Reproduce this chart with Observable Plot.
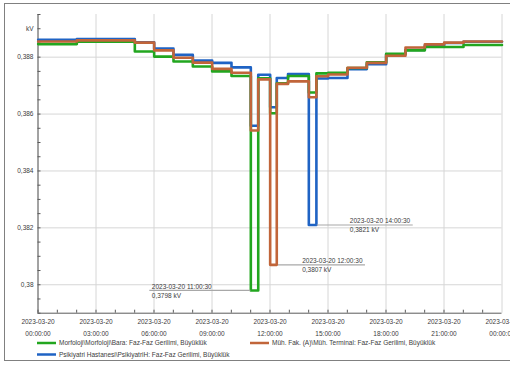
<!DOCTYPE html>
<html><head><meta charset="utf-8">
<script src="https://cdn.jsdelivr.net/npm/d3@7"></script>
<script src="https://cdn.jsdelivr.net/npm/@observablehq/plot@0.6"></script>
<style>
html,body{margin:0;padding:0;background:#fff;overflow:hidden;}
#chart{position:relative;width:510px;height:365px;}
svg{overflow:visible;}
</style></head><body><div id="chart"></div>
<script>
// ---- data ----
const times = [
  "2023-03-20T00:00:30Z","2023-03-20T02:00:30Z","2023-03-20T05:00:30Z","2023-03-20T06:00:30Z",
  "2023-03-20T07:00:30Z","2023-03-20T08:00:30Z","2023-03-20T09:00:30Z","2023-03-20T10:00:30Z",
  "2023-03-20T11:00:30Z","2023-03-20T11:23:30Z","2023-03-20T12:00:30Z","2023-03-20T12:21:00Z",
  "2023-03-20T12:56:00Z","2023-03-20T14:00:30Z","2023-03-20T14:24:00Z","2023-03-20T15:00:30Z",
  "2023-03-20T16:00:30Z","2023-03-20T17:00:30Z","2023-03-20T18:00:30Z","2023-03-20T19:00:30Z",
  "2023-03-20T20:00:30Z","2023-03-20T21:00:30Z","2023-03-20T22:00:30Z","2023-03-20T23:00:30Z",
  "2023-03-21T00:00:00Z"
];
const morfoloji = [0.38846,0.38854,0.38820,0.38802,0.38785,0.38767,0.38750,0.38734,
  0.3798,0.38726,0.38603,0.38708,0.38734,0.38676,0.38743,0.38745,
  0.38762,0.38782,0.38812,0.38824,0.38836,0.38836,0.38843,0.38843,0.38843];
const muhFak = [0.38855,0.38859,0.38851,0.38824,0.38798,0.38781,0.38759,0.38745,
  0.38542,0.38722,0.3807,0.38706,0.38715,0.38659,0.38733,0.38739,
  0.38763,0.38780,0.38805,0.38834,0.38845,0.38851,0.38855,0.38855,0.38855];
const psikiyatri = [0.38861,0.38864,0.38852,0.38830,0.38808,0.38788,0.38780,0.38764,
  0.38559,0.38738,0.38624,0.38727,0.38741,0.3821,0.38725,0.38727,
  0.38758,0.38775,0.38810,0.38825,0.38841,0.38850,0.38854,0.38854,0.38854];
const seriesNames = [
  "Morfoloji\\Morfoloji\\Bara: Faz-Faz Gerilimi, Büyüklük",
  "Müh. Fak. (A)\\Müh. Terminal: Faz-Faz Gerilimi, Büyüklük",
  "Psikiyatri Hastanesi\\PsikiyatriH: Faz-Faz Gerilimi, Büyüklük"
];
const yTicks = [0.380, 0.382, 0.384, 0.386, 0.388];
const yUnitTick = [0.389];
const yUnit = "kV";
const annTimes = ["2023-03-20T11:00:30Z","2023-03-20T12:00:30Z","2023-03-20T14:00:30Z"];
const annValues = [0.3798, 0.3807, 0.3821];
const xDomain = ["2023-03-20T00:00:00Z","2023-03-21T00:00:00Z"];
const yDomain = [0.379, 0.3895];

// ---- styles / layout ----
const colors = ["#22a61f", "#c1653a", "#1f63c4"];
const W = 510, H = 365, mL = 37.5, mR = 8.5, mT = 14, mB = 52.3;
const plotW = W - mL - mR, plotH = H - mT - mB;
const annLayout = [ // pixel offsets relative to the annotated point
  {l1: -101, l2: 0, tx: -99},
  {l1: 8.3, l2: 95.3, tx: 32},
  {l1: 8.4, l2: 104.4, tx: 41}
];

const parse = s => new Date(s);
const mk = vals => times.map((t, i) => ({t: parse(t), v: vals[i]}));
const series = [mk(morfoloji), mk(muhFak), mk(psikiyatri)];
const x0 = parse(xDomain[0]), x1 = parse(xDomain[1]);
const xs = d3.scaleUtc().domain([x0, x1]).range([mL, W - mR]);
const ann = annTimes.map((t, i) => ({t: parse(t), v: annValues[i], i}));
const comma = v => String(+v.toFixed(4)).replace(".", ",");
const fmtDate = d3.utcFormat("%Y-%m-%d %H:%M:%S");
const minorY = d3.range(0, 22).map(k => yDomain[0] + k * 0.0005);
const grid = "#d6d6d6", axisC = "#5a5a5a", textC = "#3c3c3c";

const plot = Plot.plot({
  width: W, height: H,
  marginLeft: mL, marginRight: mR, marginTop: mT, marginBottom: mB,
  x: {type: "utc", domain: [x0, x1]},
  y: {domain: yDomain},
  style: {fontFamily: "'Liberation Sans', Arial, sans-serif", fontSize: "6.5px", background: "#fff", color: textC},
  marks: [
    Plot.gridX({ticks: d3.utcHour.every(3), stroke: grid, strokeOpacity: 1}),
    Plot.gridY({ticks: yTicks, stroke: grid, strokeOpacity: 1}),
    Plot.tickY(minorY, {y: d => d, stroke: axisC, insetRight: plotW - 3}),
    Plot.tickX(d3.utcHour.range(x0, x1), {x: d => d, stroke: axisC, insetTop: plotH - 3}),
    Plot.ruleX([x0], {stroke: axisC}),
    Plot.ruleY([yDomain[0]], {stroke: axisC}),
    Plot.axisY({ticks: yTicks, tickSize: 0, tickPadding: 4.5, tickFormat: comma, label: null, fill: textC}),
    Plot.axisY({ticks: yUnitTick, tickSize: 0, tickPadding: 4.5, tickFormat: () => yUnit, label: null, fill: textC}),
    Plot.axisX({ticks: d3.utcHour.every(3), tickSize: 0, tickPadding: 2.5, lineHeight: 1.8,
      tickFormat: d3.utcFormat("%Y-%m-%d\n%H:%M:%S"), label: null, fill: textC}),
    Plot.line(series[2], {x: "t", y: "v", curve: "step-after", stroke: colors[2], strokeWidth: 2.6}),
    Plot.line(series[0], {x: "t", y: "v", curve: "step-after", stroke: colors[0], strokeWidth: 2.6}),
    Plot.line(series[1], {x: "t", y: "v", curve: "step-after", stroke: colors[1], strokeWidth: 2.6}),
    Plot.ruleY(ann, {y: "v",
      x1: d => xs.invert(xs(d.t) + annLayout[d.i].l1),
      x2: d => xs.invert(xs(d.t) + annLayout[d.i].l2),
      stroke: "#a8a8a8", strokeWidth: 1.2}),
    Plot.text(ann, {x: d => xs.invert(xs(d.t) + annLayout[d.i].tx), y: "v", dy: -4,
      text: d => fmtDate(d.t), textAnchor: "start", fill: textC}),
    Plot.text(ann, {x: d => xs.invert(xs(d.t) + annLayout[d.i].tx), y: "v", dy: 5,
      text: d => comma(d.v) + " kV", textAnchor: "start", fill: textC})
  ]
});
document.getElementById("chart").appendChild(plot);

// outer frame and legend
const svg = d3.select(plot);
svg.append("rect").attr("x", 4.5).attr("y", 3.5).attr("width", 520).attr("height", 357)
  .attr("fill", "none").attr("stroke", "#808080");
const legendPos = [{x: 37, y: 343}, {x: 250, y: 343}, {x: 37, y: 354.5}];
const lg = svg.append("g").attr("font-family", "'Liberation Sans', Arial, sans-serif")
  .attr("font-size", "6.5px").attr("text-anchor", "start");
seriesNames.forEach((name, i) => {
  const p = legendPos[i];
  lg.append("line").attr("x1", p.x).attr("x2", p.x + 19).attr("y1", p.y).attr("y2", p.y)
    .attr("stroke", colors[i]).attr("stroke-width", 2.5);
  lg.append("text").attr("x", p.x + 22).attr("y", p.y).attr("dy", "0.32em")
    .attr("fill", textC).attr("text-anchor", "start").text(name);
});
</script></body></html>
